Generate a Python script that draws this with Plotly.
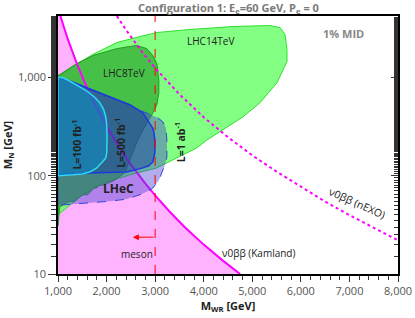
import numpy as np
import plotly.graph_objects as go

# ---------------- data (GeV) ----------------
x_range = [1000, 8000]
y_range = [10, 4210]
x_ticks = [1000, 2000, 3000, 4000, 5000, 6000, 7000, 8000]
x_ticktext = ["1,000", "2,000", "3,000", "4,000", "5,000", "6,000", "7,000", "8,000"]
y_ticks = [10, 100, 1000]
y_ticktext = ["10", "100", "1,000"]

# 0vbb Kamland bound (solid) and nEXO (dotted)
kam_mwr = [1049, 1100, 1200, 1400, 1600, 1800, 2000, 2200, 2500, 2800, 3000, 3300, 3600, 4000, 4400, 4750]
kam_mn = [4210, 3490, 2460, 1330, 780, 490, 318, 217, 130, 83, 63, 43, 30.3, 19.9, 13.6, 10]
nexo_mwr = [2213, 2400, 2700, 3000, 3500, 4000, 4500, 5000, 5500, 6000, 6500, 7000, 7500, 8000]
nexo_mn = [4210, 3040, 1900, 1245, 673, 393, 246, 161, 110, 77, 54.5, 39.7, 29.3, 22]

# LHC 14 TeV reach
lhc14_mwr = [1000, 1303, 1716, 2210, 2685, 3035, 3716, 4602, 5365, 5571, 5674, 5715, 5715, 5633, 5509,
             5159, 4808, 4396, 4066, 3860, 3654, 3365, 3035, 2478, 1922, 1510, 1240, 1000]
lhc14_mn = [1016, 1286, 1710, 2260, 2600, 2860, 3070, 3290, 3370, 3210, 2730, 1920, 1450, 1198, 883,
            552, 397, 293, 231, 192, 171, 145, 120, 102, 84, 64, 50, 40]

# LHC 8 TeV limit
lhc8_mwr = [1000, 1386, 1716, 2210, 2623, 2829, 2953, 3035, 3076, 3076, 3035, 2932, 2829, 2643, 2478,
            2375, 2169, 1922, 1850, 1798, 1720, 1695, 1612, 1520, 1447, 1344, 1250, 1200, 1035, 1000]
lhc8_mn = [1040, 1380, 1665, 1960, 2110, 1960, 1665, 1380, 946, 698, 527, 417, 345, 231, 145,
           107, 90, 80, 80, 75, 75, 71, 64, 64, 61, 55, 55, 54, 48, 31]

# LHeC, L = 1 ab^-1
lhec1ab_mwr = [1000, 1180, 1592, 2066, 2478, 2747, 2880, 3056, 3159, 3221, 3242, 3242, 3200, 3159,
               3076, 2953, 2891, 2685, 2417, 2066, 1510, 1000]
lhec1ab_mn = [993, 946, 785, 635, 527, 450, 420, 388, 353, 307, 231, 155, 128, 114,
              90, 75, 71, 64, 57.8, 55, 52.6, 50]

# LHeC, L = 500 fb^-1
l500_mwr = [1000, 1180, 1592, 2066, 2478, 2747, 2891, 2950, 2973, 2994, 2994, 2975, 2953, 2870, 2747,
            2417, 1798, 1000]
l500_mn = [993, 946, 785, 635, 527, 436, 345, 305, 279, 230, 171, 150, 138, 126, 120,
           109, 107, 102]

# LHeC, L = 100 fb^-1
l100_mwr = [1000, 1100, 1200, 1303, 1450, 1612, 1750, 1860, 1940, 1984, 2004, 2010, 2004, 1980,
            1901, 1800, 1654, 1500, 1303, 1000]
l100_mn = [1000, 990, 940, 883, 800, 715, 630, 552, 470, 397, 320, 248, 171, 150,
           135, 120, 109, 104, 102, 100]

meson_mwr = 3000
meson_arrow_tip = 2540
meson_arrow_mn = 23.7

FONT = "Open Sans"
fig = go.Figure()


def region(xs, ys, fill, lc, lw, dash="solid"):
    fig.add_trace(go.Scatter(x=list(xs) + [xs[0]], y=list(ys) + [ys[0]], mode="lines",
                             fill="toself", fillcolor=fill,
                             line=dict(color=lc, width=lw, dash=dash),
                             hoverinfo="skip", showlegend=False))


# pink excluded region (Kamland)
region([x_range[0]] + kam_mwr + [x_range[0]], [y_range[1]] + kam_mn + [y_range[0]],
       "#ffb3ff", "rgba(0,0,0,0)", 0)
region(lhc14_mwr, lhc14_mn, "rgba(100,255,100,0.8)", "#2ee02e", 1)
region(lhc8_mwr, lhc8_mn, "rgba(30,150,30,0.6)", "#239a23", 1)

fig.add_trace(go.Scatter(x=kam_mwr, y=kam_mn, mode="lines", line=dict(color="#ff00ff", width=2),
                         hoverinfo="skip", showlegend=False))
fig.add_trace(go.Scatter(x=nexo_mwr, y=nexo_mn, mode="lines",
                         line=dict(color="#ff00ff", width=2, dash="dot"),
                         hoverinfo="skip", showlegend=False))

region(lhec1ab_mwr, lhec1ab_mn, "rgba(70,60,210,0.42)", "#3048d8", 1, "dash")
region(l500_mwr, l500_mn, "rgba(20,60,160,0.45)", "#1a3ae0", 1.5)
region(l100_mwr, l100_mn, "rgba(0,160,215,0.4)", "#30d8f0", 1.5)

fig.add_trace(go.Scatter(x=[meson_mwr, meson_mwr], y=y_range, mode="lines",
                         line=dict(color="#ff0000", width=1, dash="dash"),
                         hoverinfo="skip", showlegend=False))
# invisible trace for right axis with inside ticks
fig.add_trace(go.Scatter(x=[None], y=[None], yaxis="y2", showlegend=False, hoverinfo="skip"))

lg = np.log10


def label(x, y, text, size=10, bold=False, angle=0, color="#222"):
    t = f"<b>{text}</b>" if bold else text
    fig.add_annotation(x=x, y=lg(y), text=t, showarrow=False, textangle=angle,
                       font=dict(family=FONT, size=size, color=color))


label(4149, 2366, "LHC14TeV")
label(2355, 1117, "LHC8TeV")
label(1386, 206, "L=100 fb<sup>-1</sup>", size=10.5, bold=True, angle=-90)
label(2277, 216, "L=500 fb<sup>-1</sup>", size=10.5, bold=True, angle=-90)
label(3509, 218, "L=1 ab<sup>-1</sup>", size=10.5, bold=True, angle=-90)
label(2243, 74.8, "LHeC", size=12, bold=True)
label(2617, 15.9, "meson")
label(5138, 16.3, "ν0ββ (Kamland)")
label(7155, 52.6, "ν0ββ (nEXO)", size=10.5, angle=24)
label(6870, 2793, "1% MID", size=11, bold=True, color="#888")

fig.add_annotation(x=meson_arrow_tip, y=lg(meson_arrow_mn), ax=meson_mwr, ay=lg(meson_arrow_mn),
                   xref="x", yref="y", axref="x", ayref="y", text="", showarrow=True,
                   arrowhead=2, arrowsize=1.2, arrowwidth=1, arrowcolor="#ff0000")

fig.add_annotation(xref="paper", yref="paper", x=0.5, y=1, yanchor="bottom", yshift=-2,
                   text="<b>Configuration 1: E<sub>e</sub>=60 GeV, P<sub>e</sub> = 0</b>",
                   showarrow=False, font=dict(family=FONT, size=11, color="#7a7a7a"))

fig.update_layout(
    width=415, height=318, margin=dict(l=58, r=17, t=16, b=44, autoexpand=False),
    paper_bgcolor="white", plot_bgcolor="white", showlegend=False,
    font=dict(family=FONT, size=11, color="#555"),
    xaxis=dict(range=x_range, tickvals=x_ticks, ticktext=x_ticktext, ticks="outside", ticklen=6,
               tickcolor="#333", showgrid=False, zeroline=False, showline=True, linecolor="black",
               linewidth=1.5, mirror=True, automargin=False,
               minor=dict(ticks="outside", ticklen=4, dtick=200, tickcolor="#333", showgrid=False),
               title=dict(text="<b>M<sub>WR</sub> [GeV]</b>", standoff=4,
                          font=dict(family=FONT, size=11, color="#222"))),
    yaxis=dict(type="log", range=[lg(y_range[0]), lg(y_range[1])], tickvals=y_ticks,
               ticktext=y_ticktext, ticks="outside", ticklen=8, tickcolor="#333", showgrid=False,
               zeroline=False, showline=True, linecolor="black", linewidth=1.5, mirror=True,
               automargin=False,
               minor=dict(ticks="outside", ticklen=5, tickcolor="#333", showgrid=False),
               title=dict(text="<b>M<sub>N</sub> [GeV]</b>", standoff=6,
                          font=dict(family=FONT, size=11, color="#222"))),
    yaxis2=dict(type="log", range=[lg(y_range[0]), lg(y_range[1])], overlaying="y", side="right",
                tickvals=y_ticks, showticklabels=False, ticks="inside", ticklen=7,
                tickcolor="#333", showgrid=False, zeroline=False, showline=False, automargin=False,
                minor=dict(ticks="inside", ticklen=4, tickcolor="#333", showgrid=False)),
)

fig.write_html("out.html", config={"displayModeBar": False},
               post_script="document.body.style.margin='0';")
